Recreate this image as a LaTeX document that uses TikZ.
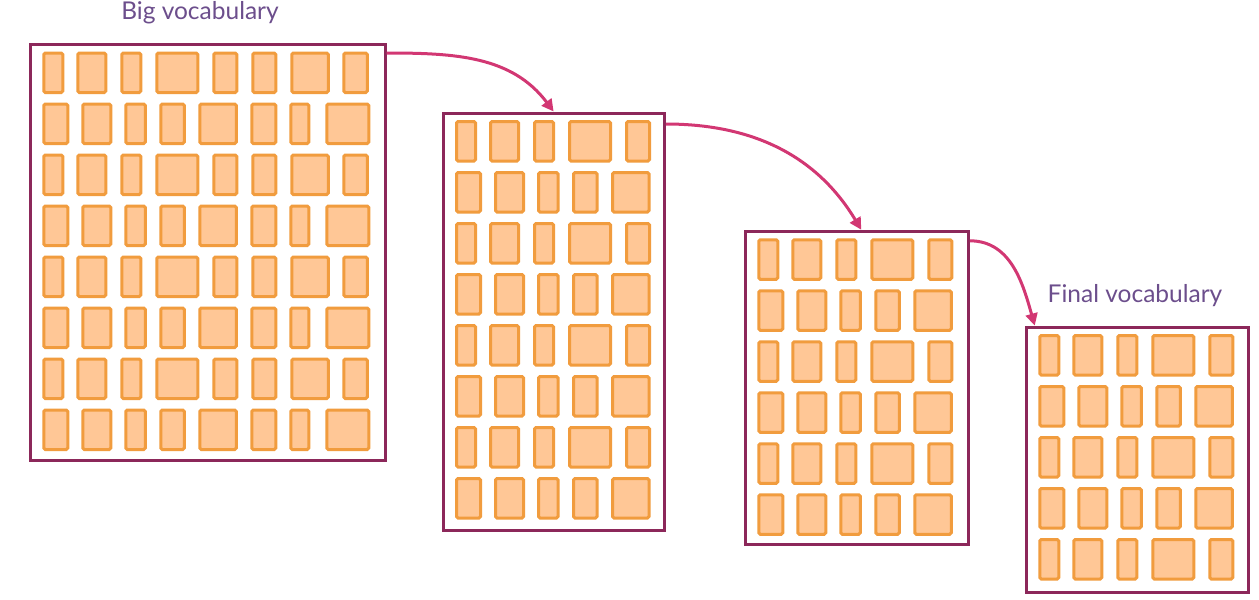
\documentclass[tikz,border=0pt]{standalone}
\usepackage{fontspec}
\setmainfont{Lato}
\usetikzlibrary{arrows.meta}
\definecolor{framec}{RGB}{140,40,90}
\definecolor{tileline}{RGB}{241,156,62}
\definecolor{tilefill}{RGB}{255,199,150}
\definecolor{arrowc}{RGB}{210,55,115}
\definecolor{labelc}{RGB}{108,78,140}
\tikzset{
    vocab/.style={draw=framec, line width=3pt, fill=white, inner sep=0pt, anchor=north west},
    tile/.style={draw=tileline, fill=tilefill, line width=3pt, rounded corners=1.5pt},
    flow/.style={draw=arrowc, line width=3pt, -{Triangle[length=12pt,width=12pt]}},
    title/.style={text=labelc, font=\fontsize{24.5}{27}\selectfont, anchor=base}
}
% tile columns: offset/width, odd rows and even rows
\def\rowA{15/22, 49/31, 93/22, 128/44, 185/26, 224/26, 263/39.5, 315/26.5}
\def\rowB{15/27, 54/31, 97/22.5, 132/26.5, 171/39.5, 223/27, 262/21, 298/45}
\begin{document}
\begin{tikzpicture}[x=1pt, y=-1pt]
	\useasboundingbox (0,0) rectangle (1259,600);
	\node[vocab, minimum width=354.7pt, minimum height=415.5pt] (big) at (28.8,43) {};
	\node[vocab, minimum width=221.3pt, minimum height=417pt] (mid) at (441.5,111.5) {};
	\node[vocab, minimum width=223pt, minimum height=313pt] (small) at (743.8,229.8) {};
	\node[vocab, minimum width=222pt, minimum height=265.5pt] (final) at (1024.8,325.5) {};
	% tiles in each vocabulary
	\foreach \p/\nr/\nc in {big/8/8, mid/8/5, small/6/5, final/5/5} {
		\begin{scope}[shift={(\p.north west)}]
			\foreach \r in {1,...,\nr} {
				\ifodd\r
					\foreach \x/\w [count=\c] in \rowA {
						\ifnum\c>\nc\relax\else
							\draw[tile] (\x, 10+51*\r-51) rectangle ++(\w-3, 39.5);
						\fi
					}
				\else
					\foreach \x/\w [count=\c] in \rowB {
						\ifnum\c>\nc\relax\else
							\draw[tile] (\x, 10+51*\r-51) rectangle ++(\w-3, 39.5);
						\fi
					}
				\fi
			}
		\end{scope}
	}
	\node[title] (bigname) at (200,19.5) {Big vocabulary};
	\node[title] (finalname) at (1135,302.7) {Final vocabulary};
	\draw[flow] ([yshift=-10pt]big.north east) to[out=0, in=127] (mid.north);
	\draw[flow] ([yshift=-12.5pt]mid.north east) to[out=0, in=121] ([xshift=4.5pt]small.north);
	\draw[flow] ([yshift=-11pt]small.north east) to[out=0, in=106] ([xshift=10pt]final.north west);
\end{tikzpicture}
\end{document}
